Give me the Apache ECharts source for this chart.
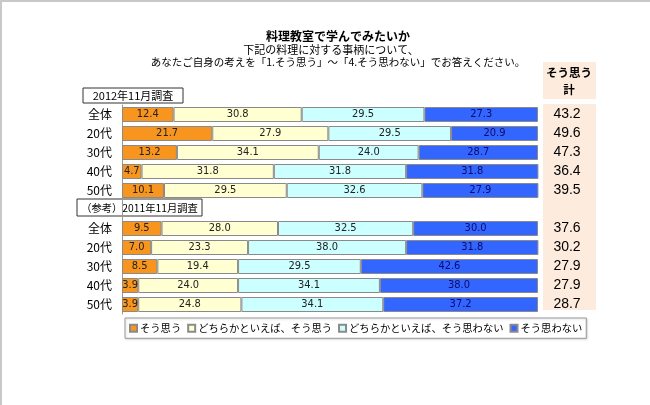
<!DOCTYPE html>
<html>
<head>
<meta charset="utf-8">
<script src="https://cdn.jsdelivr.net/npm/echarts@6/dist/echarts.min.js"></script>
<style>
html,body{margin:0;padding:0;background:#fff;}
#wrap{position:relative;width:650px;height:405px;}
#chart{width:650px;height:405px;}
#frame{position:absolute;left:0;top:0;width:650px;height:405px;border-top:2px solid #c8c8c8;border-left:2px solid #c8c8c8;box-sizing:border-box;pointer-events:none;}
</style>
</head>
<body>
<div id="wrap"><div id="chart"></div><div id="frame"></div></div>
<script>
const categories = ['全体','20代','30代','40代','50代','','全体','20代','30代','40代','50代'];
const seriesNames = ['そう思う','どちらかといえば、そう思う','どちらかといえば、そう思わない','そう思わない'];
const agree = [12.4,21.7,13.2,4.7,10.1,'-',9.5,7.0,8.5,3.9,3.9];
const somewhatAgree = [30.8,27.9,34.1,31.8,29.5,'-',28.0,23.3,19.4,24.0,24.8];
const somewhatDisagree = [29.5,29.5,24.0,31.8,32.6,'-',32.5,38.0,29.5,34.1,34.1];
const disagree = [27.3,20.9,28.7,31.8,27.9,'-',30.0,31.8,42.6,38.0,37.2];
const agreeTotal = ['43.2','49.6','47.3','36.4','39.5','','37.6','30.2','27.9','27.9','28.7'];
const groupLabels = ['2012年11月調査','（参考）2011年11月調査'];

const colors = ['#F7951F','#FFFFD2','#CCFFFF','#3366FF'];
const labelColors = ['#222','#222','#222','#0A0A6A'];
const seriesData = [agree, somewhatAgree, somewhatDisagree, disagree];
const numFont = "'Liberation Sans Narrow','DejaVu Sans Condensed','Liberation Sans',sans-serif";
const jpFont = "'Noto Sans CJK JP',sans-serif";

const chart = echarts.init(document.getElementById('chart'));
chart.setOption({
  animation:false,
  backgroundColor:'#fff',
  title:[
    {text:'料理教室で学んでみたいか',left:333,top:25,textAlign:'center',
     textStyle:{fontSize:12,fontWeight:'bold',color:'#000',fontFamily:jpFont}},
    {text:'下記の料理に対する事柄について、',left:326,top:39,textAlign:'center',
     textStyle:{fontSize:11,fontWeight:'normal',color:'#000',fontFamily:jpFont}},
    {text:'あなたご自身の考えを「1.そう思う」～「4.そう思わない」でお答えください。',left:333,top:52,textAlign:'center',
     textStyle:{fontSize:10.5,fontWeight:'normal',color:'#000',fontFamily:jpFont}}
  ],
  legend:{
    left:125,top:318,orient:'horizontal',
    itemWidth:7,itemHeight:7,itemGap:6,
    padding:[5,4,5,4],
    borderColor:'#999',borderWidth:1,backgroundColor:'#fff',
    shadowColor:'rgba(0,0,0,0.15)',shadowBlur:2,shadowOffsetX:1,shadowOffsetY:1,
    icon:'rect',
    textStyle:{fontSize:10.3,color:'#000',fontFamily:jpFont,padding:[0,0,0,-2]},
    data:seriesNames
  },
  grid:{left:122,right:112,top:105,height:209},
  xAxis:{type:'value',min:0,max:100,show:false},
  yAxis:[
    {type:'category',data:categories,inverse:true,
     axisLine:{show:true,lineStyle:{color:'#999'}},axisTick:{show:false},
     axisLabel:{fontSize:12,color:'#000',margin:10,fontFamily:jpFont}},
    {type:'category',data:categories,inverse:true,position:'right',
     axisLine:{show:false},axisTick:{show:false},
     axisLabel:{fontSize:14,color:'#000',margin:29,align:'center',fontFamily:"'Liberation Sans',Arial,sans-serif",
       formatter:function(v,i){return agreeTotal[i];}}}
  ],
  graphic:[
    {type:'rect',z:-1,shape:{x:543,y:62,width:53,height:37},style:{fill:'#FDEBDD'}},
    {type:'rect',z:-1,shape:{x:543,y:104,width:53,height:206},style:{fill:'#FDEBDD'}},
    {type:'text',style:{x:569,y:73,text:'そう思う',textAlign:'center',textVerticalAlign:'middle',font:"bold 11.5px 'Noto Sans CJK JP'",fill:'#000'}},
    {type:'text',style:{x:569,y:90,text:'計',textAlign:'center',textVerticalAlign:'middle',font:"bold 11.5px 'Noto Sans CJK JP'",fill:'#000'}},
    {type:'rect',shape:{x:83,y:88,width:100,height:15},style:{fill:'#fff',stroke:'#333',lineWidth:1}},
    {type:'text',style:{x:133,y:96,text:groupLabels[0],textAlign:'center',textVerticalAlign:'middle',font:"11px 'Noto Sans CJK JP'",fill:'#000'}},
    {type:'rect',shape:{x:77,y:199,width:125,height:17},style:{fill:'#fff',stroke:'#333',lineWidth:1}},
    {type:'text',style:{x:139.5,y:208,text:groupLabels[1],textAlign:'center',textVerticalAlign:'middle',font:"10.3px 'Noto Sans CJK JP'",fill:'#000'}}
  ],
  series:seriesNames.map(function(name,k){
    return {
      name:name,type:'bar',stack:'all',barWidth:15,
      data:seriesData[k],
      itemStyle:{color:colors[k],borderColor:'#8a8a8a',borderWidth:1},
      label:{show:true,position:'inside',fontSize:11,color:labelColors[k],fontFamily:numFont,
        formatter:function(p){return Number(p.value).toFixed(1);}}
    };
  })
});
</script>
</body>
</html>
